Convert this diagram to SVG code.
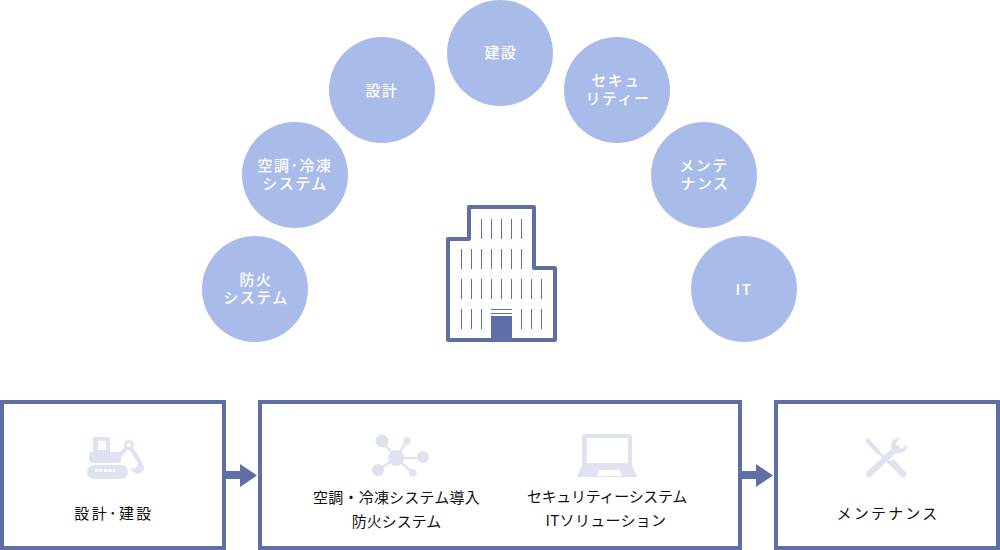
<svg xmlns="http://www.w3.org/2000/svg" width="1000" height="550" viewBox="0 0 1000 550">
<style>
text{font-family:"Noto Sans CJK JP","Noto Sans",sans-serif;text-anchor:middle;font-weight:500}
.c{fill:#a9bbe9}
.w{fill:#fff;font-size:15px;letter-spacing:1.500px}
.k{fill:#111;font-size:15px;font-weight:400}
.b{fill:#fff;stroke:#5d6fa6;stroke-width:4}
.i{fill:#dfe3f0}
.is{stroke:#dfe3f0;fill:none}
.l{stroke:#5d6fa6;stroke-width:1;fill:none}
.a{fill:#5d6fa6}
</style>
<g id="n1"><circle class="c" cx="255" cy="289" r="53"/><text class="w"><tspan x="256" y="285">防火</tspan><tspan x="256" y="303">システム</tspan></text></g>
<g id="n2"><circle class="c" cx="295" cy="175" r="53"/><text class="w"><tspan x="295" y="171">空調･冷凍</tspan><tspan x="295" y="189">システム</tspan></text></g>
<g id="n3"><circle class="c" cx="382" cy="90" r="53"/><text class="w" x="382" y="96">設計</text></g>
<g id="n4"><circle class="c" cx="500" cy="53" r="53"/><text class="w" x="501" y="58">建設</text></g>
<g id="n5"><circle class="c" cx="617" cy="90" r="53"/><text class="w"><tspan x="616" y="86">セキュ</tspan><tspan x="618" y="104">リティー</tspan></text></g>
<g id="n6"><circle class="c" cx="704" cy="175" r="53"/><text class="w"><tspan x="704" y="171">メンテ</tspan><tspan x="705" y="189">ナンス</tspan></text></g>
<g id="n7"><circle class="c" cx="744" cy="289" r="53"/><text class="w" x="744" y="295">IT</text></g>
<g id="building">
<path d="M448 340V239H469V207H534V268H555V340Z" fill="#fff" stroke="#5d6fa6" stroke-width="4" stroke-linejoin="round"/>
<rect x="491" y="316" width="21" height="23" fill="#5d6fa6"/>
<path class="l" d="M491 309.500h21M491 313.500h21"/>
<path class="l" d="M481.500 219v20M491.500 219v20M501.500 219v20M511.500 219v20M521.500 219v20M461.500 249v20M471.500 249v20M481.500 249v20M491.500 249v20M501.500 249v20M511.500 249v20M521.500 249v20M461.500 279v20M471.500 279v20M481.500 279v20M491.500 279v20M501.500 279v20M511.500 279v20M521.500 279v20M531.500 279v20M541.500 279v20M461.500 309v20M471.500 309v20M481.500 309v20M521.500 309v20M531.500 309v20M541.500 309v20"/>
</g>
<g id="box1"><rect class="b" x="2" y="402" width="222" height="146"/>
<g id="icon-excavator">
<rect class="i" x="93" y="437" width="17" height="18" rx="2"/>
<rect x="98" y="441" width="8" height="9" fill="#fff"/>
<rect class="i" x="89" y="452" width="32" height="11" rx="2.500"/>
<path class="is" d="M118 458L129 445L141 464" stroke-width="4" stroke-linejoin="round"/>
<circle class="i" cx="129" cy="445" r="5"/>
<circle cx="129" cy="445" r="2" fill="#fff"/>
<rect class="i" x="87" y="465" width="41" height="14" rx="7"/>
<path d="M95 470.500h20" stroke="#fff" stroke-width="3" stroke-dasharray="3 1.500" fill="none"/>
<path class="i" d="M139 461L144 466Q145 472 138 474Q133 473 130 468Q135 470 137 466Z"/>
</g>
<text class="k" style="letter-spacing:2.400px" x="114" y="519">設計･建設</text></g>
<g id="box2"><rect class="b" x="260" y="402" width="480" height="146"/>
<g id="icon-network">
<path class="is" stroke-width="2.500" d="M382 441L396 458L407 441M396 458H423M396 458L378 470M396 458L413 473"/>
<circle class="i" cx="396" cy="458" r="8"/>
<circle class="i" cx="382" cy="441" r="6.500"/>
<circle class="i" cx="407" cy="441" r="3.800"/>
<circle class="i" cx="423" cy="457" r="6"/>
<circle class="i" cx="378" cy="470" r="6"/>
<circle class="i" cx="413" cy="473" r="3.800"/>
</g>
<g id="icon-laptop">
<path class="i" d="M585 434H629Q632 434 632 437V465L637 477H577L582 465V437Q582 434 585 434Z"/>
<rect x="587" y="438" width="41" height="25" fill="#fff"/>
<path d="M600 470H619L622 476H597Z" fill="#fff"/>
</g>
<text class="k" style="letter-spacing:.2px" x="396.500" y="503">空調・冷凍システム導入</text><text class="k" x="396.500" y="527">防火システム</text><text class="k" style="letter-spacing:-.3px" x="607" y="502">セキュリティーシステム</text><text class="k" style="letter-spacing:.3px" x="606" y="526">ITソリューション</text></g>
<g id="box3"><rect class="b" x="776" y="402" width="222" height="146"/>
<g id="icon-tools">
<path class="is" stroke-width="4.500" stroke-linecap="round" d="M868 441L878 452"/>
<path class="is" stroke-width="3" d="M877 451L897 470"/>
<path class="is" stroke-width="6.500" stroke-linecap="round" d="M893 463L903 474"/>
<path class="is" stroke-width="6" stroke-linecap="round" d="M869 474L897 448"/>
<path class="i" d="M900 437.500A8 8 0 1 0 907 445L901 449L896 444L900 437.500Z"/>
</g>
<text class="k" style="letter-spacing:2.200px" x="888" y="519">メンテナンス</text></g>
<g id="connectors">
<path class="a" d="M226 471H240V464L257 475.500L240 487V479H226Z"/>
<path class="a" d="M742 471H756V464L773 475.500L756 487V479H742Z"/>
</g>
</svg>
